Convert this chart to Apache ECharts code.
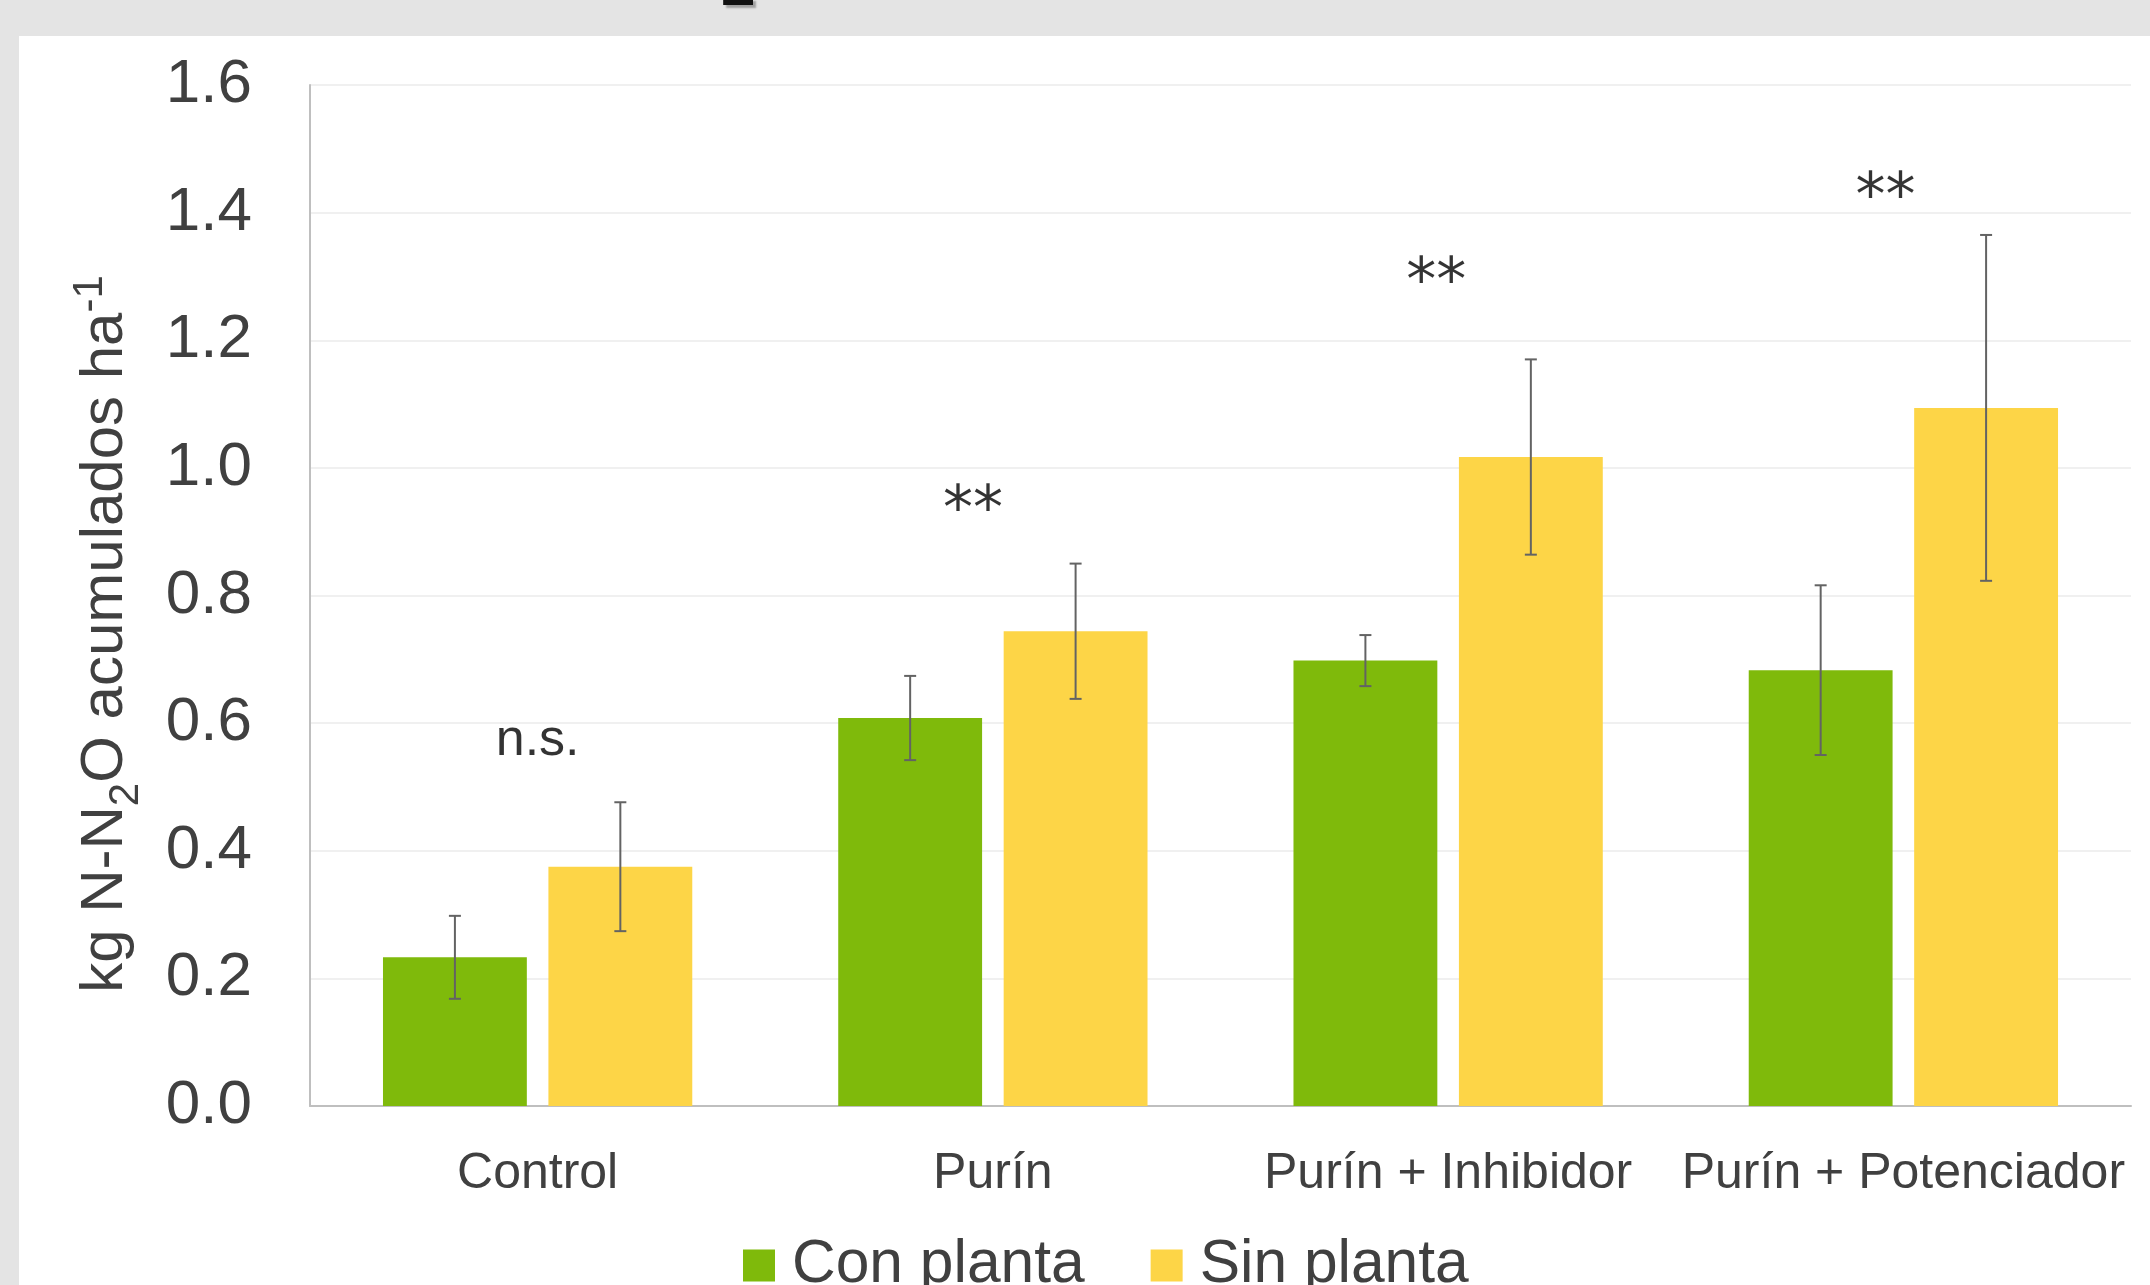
<!DOCTYPE html>
<html lang="es">
<head>
<meta charset="utf-8">
<title>N-N2O acumulado</title>
<script src="https://cdn.jsdelivr.net/npm/echarts@6/dist/echarts.min.js"></script>
<style>
  html, body { margin: 0; padding: 0; background: #ffffff; }
  #chart { width: 2150px; height: 1285px; }
</style>
</head>
<body>
<div id="chart"></div>
<script>
// ---- data ----
const categories = ['Control', 'Purín', 'Purín + Inhibidor', 'Purín + Potenciador'];
const seriesNames = ['Con planta', 'Sin planta'];
const conPlanta = [0.233, 0.608, 0.698, 0.683];
const sinPlanta = [0.375, 0.744, 1.017, 1.094];
const errConPlanta = [0.065, 0.066, 0.040, 0.133];
const errSinPlanta = [0.101, 0.106, 0.153, 0.271];
const sigLabels = ['n.s.', '**', '**', '**'];
const yMin = 0, yMax = 1.6, yStep = 0.2;

// ---- layout / style ----
const GREEN = '#7FBA0B';
const YELLOW = '#FDD547';
const TEXT = '#404040';
const FONT = "'Liberation Sans', Arial, sans-serif";
const BAR_FRAC = 0.316;   // bar width as a share of the category band
const GAP_FRAC = 0.15;    // gap between the two bars, as a share of bar width

// heights (axis units) and x nudges (px) where the significance marks sit
const sigAnchor = [0.573, 0.930, 1.288, 1.421];
const sigNudge = [0, -20, -12, -18];

function errorBars(name, means, errs, side) {
  return {
    type: 'custom',
    name: name,
    silent: true,
    z: 5,
    encode: { x: 0, y: [1, 2] },
    data: means.map((m, i) => [i, m - errs[i], m + errs[i]]),
    renderItem: function (params, api) {
      const cat = api.value(0);
      const lo = api.coord([cat, api.value(1)]);
      const hi = api.coord([cat, api.value(2)]);
      const band = api.size([1, 0])[0];
      const x = lo[0] + side * band * BAR_FRAC * (1 + GAP_FRAC) / 2;
      const cap = 6;
      const st = { stroke: '#636363', lineWidth: 2 };
      return {
        type: 'group',
        children: [
          { type: 'line', shape: { x1: x, y1: hi[1], x2: x, y2: lo[1] }, style: st },
          { type: 'line', shape: { x1: x - cap, y1: hi[1], x2: x + cap, y2: hi[1] }, style: st },
          { type: 'line', shape: { x1: x - cap, y1: lo[1], x2: x + cap, y2: lo[1] }, style: st }
        ]
      };
    }
  };
}

const chart = echarts.init(document.getElementById('chart'), null, { renderer: 'canvas' });

chart.setOption({
  backgroundColor: '#ffffff',
  animation: false,
  textStyle: { fontFamily: FONT },
  grid: { left: 310, right: 19, top: 85, bottom: 179 },
  legend: {
    data: seriesNames,
    left: 738,
    top: 1230,
    icon: 'rect',
    itemWidth: 32,
    itemHeight: 32,
    itemGap: 66,
    selectedMode: false,
    textStyle: { fontSize: 60.5, color: TEXT, fontFamily: FONT, padding: [0, 0, 0, 12] }
  },
  xAxis: {
    type: 'category',
    data: categories,
    axisLine: { show: true, lineStyle: { color: '#bfbfbf', width: 2 } },
    axisTick: { show: false },
    axisLabel: { interval: 0, fontSize: 50, color: TEXT, margin: 43, fontFamily: FONT },
    splitLine: { show: false }
  },
  yAxis: {
    type: 'value',
    min: yMin,
    max: yMax,
    interval: yStep,
    axisLine: { show: true, lineStyle: { color: '#bfbfbf', width: 2 } },
    axisTick: { show: false },
    axisLabel: {
      fontSize: 62, color: TEXT, margin: 58, fontFamily: FONT,
      padding: [3, 0, 0, 0],
      formatter: v => v.toFixed(1)
    },
    splitLine: { show: true, lineStyle: { color: '#f0f0f0', width: 2 } }
  },
  series: [
    {
      type: 'bar',
      name: seriesNames[0],
      data: conPlanta,
      barWidth: (BAR_FRAC * 100) + '%',
      barGap: (GAP_FRAC * 100) + '%',
      itemStyle: { color: GREEN }
    },
    {
      type: 'bar',
      name: seriesNames[1],
      data: sinPlanta,
      barWidth: (BAR_FRAC * 100) + '%',
      barGap: (GAP_FRAC * 100) + '%',
      itemStyle: { color: YELLOW }
    },
    errorBars('err-con', conPlanta, errConPlanta, -1),
    errorBars('err-sin', sinPlanta, errSinPlanta, 1),
    {
      type: 'scatter',
      name: 'sig',
      silent: true,
      symbolSize: 0,
      z: 6,
      data: sigLabels.map((s, i) => ({
        value: [i, sigAnchor[i]],
        label: {
          show: true,
          position: 'inside',
          offset: [sigNudge[i], 0],
          formatter: s,
          color: '#000000',
          fontSize: s === 'n.s.' ? 52 : 60,
          fontFamily: s === 'n.s.' ? FONT : "'DejaVu Sans', sans-serif"
        }
      }))
    }
  ],
  graphic: [
    // grey frame around the panel
    { type: 'rect', left: 0, top: 0, shape: { width: 2150, height: 36 }, style: { fill: '#e4e4e4' }, silent: true },
    { type: 'rect', left: 0, top: 0, shape: { width: 19, height: 1285 }, style: { fill: '#e4e4e4' }, silent: true },
    // tail of the heading above the panel
    {
      type: 'text', x: 721, y: -12, silent: true, z: 10,
      style: {
        text: '2', fill: '#111111', fontSize: 62, fontWeight: 'bold', fontFamily: FONT,
        verticalAlign: 'middle', align: 'left',
        textShadowColor: 'rgba(0,0,0,0.3)', textShadowOffsetX: 3, textShadowOffsetY: 3, textShadowBlur: 2
      }
    },
    // y-axis title with sub/superscript
    {
      type: 'text', x: 99, y: 634, rotation: Math.PI / 2, silent: true,
      style: {
        text: '{a|kg N-N}{b|2}{a|O acumulados ha}{c|-1}',
        align: 'center', verticalAlign: 'middle',
        fill: TEXT, fontFamily: FONT,
        rich: {
          a: { fontSize: 60, lineHeight: 60, verticalAlign: 'top', padding: [6, 0, 0, 0], fill: TEXT, fontFamily: FONT },
          b: { fontSize: 42, lineHeight: 42, verticalAlign: 'top', padding: [36, 0, 0, 0], fill: TEXT, fontFamily: FONT },
          c: { fontSize: 42, lineHeight: 42, verticalAlign: 'top', padding: [0, 0, 0, 0], fill: TEXT, fontFamily: FONT }
        }
      }
    }
  ]
});
</script>
</body>
</html>
